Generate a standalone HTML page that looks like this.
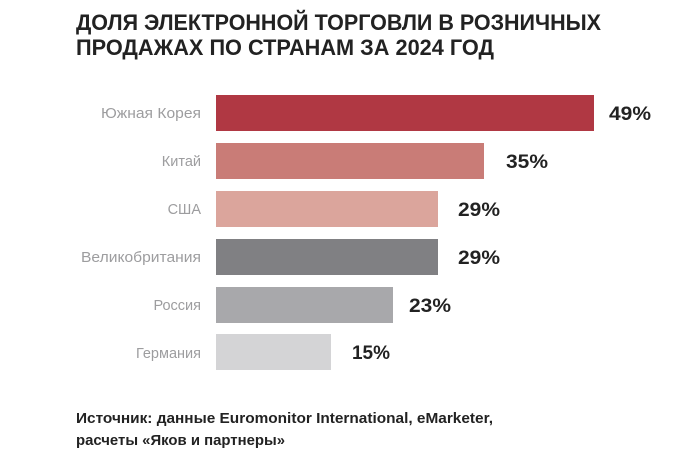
<!DOCTYPE html>
<html><head><meta charset="utf-8"><style>
html,body{margin:0;padding:0;background:#fff;}
svg{display:block;}
</style></head><body>
<svg width="686" height="457" xmlns="http://www.w3.org/2000/svg" font-family="Liberation Sans, sans-serif">
<text x="76" y="30" font-size="22" font-weight="bold" fill="#222" textLength="525" lengthAdjust="spacingAndGlyphs">ДОЛЯ ЭЛЕКТРОННОЙ ТОРГОВЛИ В РОЗНИЧНЫХ</text>
<text x="76" y="55" font-size="22" font-weight="bold" fill="#222" textLength="418" lengthAdjust="spacingAndGlyphs">ПРОДАЖАХ ПО СТРАНАМ ЗА 2024 ГОД</text>
<g font-size="14.5" fill="#9d9d9f" text-anchor="end">
<text x="201" y="118" textLength="100" lengthAdjust="spacingAndGlyphs">Южная Корея</text>
<text x="201" y="166">Китай</text>
<text x="201" y="214">США</text>
<text x="201" y="262" textLength="120" lengthAdjust="spacingAndGlyphs">Великобритания</text>
<text x="201" y="310">Россия</text>
<text x="201" y="358">Германия</text>
</g>
<rect x="216" y="95" width="378" height="36" fill="#b03843"/>
<rect x="216" y="143" width="268" height="36" fill="#c97c77"/>
<rect x="216" y="191" width="222" height="36" fill="#dba59c"/>
<rect x="216" y="239" width="222" height="36" fill="#808083"/>
<rect x="216" y="287" width="177" height="36" fill="#a8a8ab"/>
<rect x="216" y="334" width="115" height="36" fill="#d4d4d6"/>
<g font-size="19" font-weight="bold" fill="#222">
<text x="609" y="120" textLength="42" lengthAdjust="spacingAndGlyphs">49%</text>
<text x="506" y="168" textLength="42" lengthAdjust="spacingAndGlyphs">35%</text>
<text x="458" y="216" textLength="42" lengthAdjust="spacingAndGlyphs">29%</text>
<text x="458" y="264" textLength="42" lengthAdjust="spacingAndGlyphs">29%</text>
<text x="409" y="312" textLength="42" lengthAdjust="spacingAndGlyphs">23%</text>
<text x="352" y="359" textLength="38" lengthAdjust="spacingAndGlyphs">15%</text>
</g>
<g font-size="14.5" font-weight="bold" fill="#222">
<text x="76" y="423" textLength="417" lengthAdjust="spacingAndGlyphs">Источник: данные Euromonitor International, eMarketer,</text>
<text x="76" y="445" textLength="209" lengthAdjust="spacingAndGlyphs">расчеты «Яков и партнеры»</text>
</g>
</svg>
</body></html>
